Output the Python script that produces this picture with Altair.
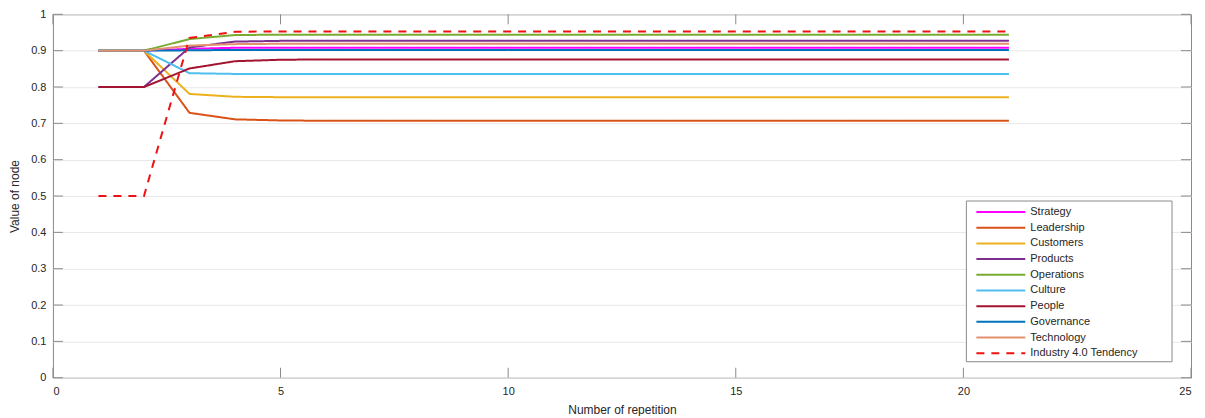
import altair as alt
import pandas as pd

repetitions = list(range(1, 22))

series_names = ["Strategy", "Leadership", "Customers", "Products", "Operations",
                "Culture", "People", "Governance", "Technology", "Industry 4.0 Tendency"]

strategy   = [0.900, 0.900, 0.905, 0.908, 0.908, 0.908, 0.908, 0.908, 0.908, 0.908, 0.908,
              0.908, 0.908, 0.908, 0.908, 0.908, 0.908, 0.908, 0.908, 0.908, 0.908]
leadership = [0.900, 0.900, 0.729, 0.711, 0.708, 0.707, 0.707, 0.707, 0.707, 0.707, 0.707,
              0.707, 0.707, 0.707, 0.707, 0.707, 0.707, 0.707, 0.707, 0.707, 0.707]
customers  = [0.900, 0.900, 0.781, 0.773, 0.772, 0.772, 0.772, 0.772, 0.772, 0.772, 0.772,
              0.772, 0.772, 0.772, 0.772, 0.772, 0.772, 0.772, 0.772, 0.772, 0.772]
products   = [0.800, 0.800, 0.909, 0.925, 0.927, 0.927, 0.927, 0.927, 0.927, 0.927, 0.927,
              0.927, 0.927, 0.927, 0.927, 0.927, 0.927, 0.927, 0.927, 0.927, 0.927]
operations = [0.900, 0.900, 0.932, 0.943, 0.944, 0.944, 0.944, 0.944, 0.944, 0.944, 0.944,
              0.944, 0.944, 0.944, 0.944, 0.944, 0.944, 0.944, 0.944, 0.944, 0.944]
culture    = [0.900, 0.900, 0.838, 0.836, 0.836, 0.836, 0.836, 0.836, 0.836, 0.836, 0.836,
              0.836, 0.836, 0.836, 0.836, 0.836, 0.836, 0.836, 0.836, 0.836, 0.836]
people     = [0.800, 0.800, 0.851, 0.871, 0.875, 0.876, 0.876, 0.876, 0.876, 0.876, 0.876,
              0.876, 0.876, 0.876, 0.876, 0.876, 0.876, 0.876, 0.876, 0.876, 0.876]
governance = [0.900, 0.900, 0.901, 0.902, 0.902, 0.902, 0.902, 0.902, 0.902, 0.902, 0.902,
              0.902, 0.902, 0.902, 0.902, 0.902, 0.902, 0.902, 0.902, 0.902, 0.902]
technology = [0.900, 0.900, 0.914, 0.918, 0.919, 0.919, 0.919, 0.919, 0.919, 0.919, 0.919,
              0.919, 0.919, 0.919, 0.919, 0.919, 0.919, 0.919, 0.919, 0.919, 0.919]
industry   = [0.500, 0.500, 0.935, 0.952, 0.953, 0.953, 0.953, 0.953, 0.953, 0.953, 0.953,
              0.953, 0.953, 0.953, 0.953, 0.953, 0.953, 0.953, 0.953, 0.953, 0.953]

series_values = [strategy, leadership, customers, products, operations,
                 culture, people, governance, technology, industry]

colors = ["#FF00FF", "#D95319", "#EDB120", "#7E2F8E", "#77AC30",
          "#4DBEEE", "#A2142F", "#0072BD", "#E3906E", "#EE1111"]
widths = [2, 2, 2, 2, 2, 2, 2, 2, 1, 2.5]
dashes = [[1, 0]] * 9 + [[8, 7]]

x_ticks = [0, 5, 10, 15, 20, 25]
y_ticks = [0, 0.1, 0.2, 0.3, 0.4, 0.5, 0.6, 0.7, 0.8, 0.9, 1.0]

rows = []
for name, vals in zip(series_names, series_values):
    for r, v in zip(repetitions, vals):
        rows.append({"rep": r, "value": v, "series": name,
                     "order": series_names.index(name)})
df = pd.DataFrame(rows)
legend_df = pd.DataFrame({"series": series_names})
xt_df = pd.DataFrame({"rep": x_ticks})
yt_df = pd.DataFrame({"value": y_ticks})

W, H = 1140, 364
FONT = "Liberation Sans"
GREY = "#8a8a8a"

color_scale = alt.Scale(domain=series_names, range=colors)
width_scale = alt.Scale(domain=series_names, range=widths)
dash_scale = alt.Scale(domain=series_names, range=dashes)

x_axis = alt.Axis(values=x_ticks, title="Number of repetition", grid=False,
                  ticks=False, tickSize=0, domain=False, labelPadding=8,
                  titlePadding=8, labelOverlap=False)
y_axis = alt.Axis(values=y_ticks, title="Value of node", grid=True, format=".1~f",
                  gridColor="#e8e8e8", ticks=False, tickSize=0, domain=False,
                  labelPadding=7, titlePadding=9, labelOverlap=False)
xenc = alt.X("rep:Q", scale=alt.Scale(domain=[0, 25]), axis=x_axis)
yenc = alt.Y("value:Q", scale=alt.Scale(domain=[0, 1]), axis=y_axis)

base_lines = alt.Chart(df[df.series != "Industry 4.0 Tendency"]).mark_line().encode(
    x=xenc, y=yenc,
    color=alt.Color("series:N", scale=color_scale, legend=None),
    strokeWidth=alt.StrokeWidth("series:N", scale=width_scale, legend=None),
    strokeDash=alt.StrokeDash("series:N", scale=dash_scale, legend=None),
    order="order:Q",
)
ind_line = alt.Chart(df[df.series == "Industry 4.0 Tendency"]).mark_line().encode(
    x=xenc, y=yenc,
    color=alt.Color("series:N", scale=color_scale, legend=None),
    strokeWidth=alt.StrokeWidth("series:N", scale=width_scale, legend=None),
    strokeDash=alt.StrokeDash("series:N", scale=dash_scale, legend=None),
)

tick_len = 10
xt_bottom = alt.Chart(xt_df).mark_rule(color=GREY).encode(
    x=xenc, y=alt.value(H - tick_len), y2=alt.value(H))
xt_top = alt.Chart(xt_df).mark_rule(color=GREY).encode(
    x=xenc, y=alt.value(0), y2=alt.value(tick_len))
yt_left = alt.Chart(yt_df).mark_rule(color=GREY).encode(
    y=yenc, x=alt.value(0), x2=alt.value(tick_len))
yt_right = alt.Chart(yt_df).mark_rule(color=GREY).encode(
    y=yenc, x=alt.value(W - tick_len), x2=alt.value(W))

# legend box
box = alt.Chart(legend_df.head(1)).mark_rect(fill="white", stroke=GREY, strokeWidth=1).encode(
    x=alt.value(915), x2=alt.value(1121), y=alt.value(187), y2=alt.value(348))

leg_y = alt.Y("series:N", scale=alt.Scale(type="point", domain=series_names,
                                           range=[198, 339.5], padding=0), axis=None)
leg_sym = alt.Chart(legend_df).mark_rule().encode(
    y=leg_y, x=alt.value(925), x2=alt.value(974),
    color=alt.Color("series:N", scale=color_scale, legend=None),
    strokeWidth=alt.StrokeWidth("series:N", scale=width_scale, legend=None),
    strokeDash=alt.StrokeDash("series:N", scale=dash_scale, legend=None),
)
leg_txt = alt.Chart(legend_df).mark_text(align="left", baseline="middle", font=FONT,
                                         fontSize=11, color="#262626").encode(
    y=leg_y, x=alt.value(979), text="series:N")

main = alt.layer(base_lines, ind_line, xt_bottom, xt_top, yt_left, yt_right)
legend = alt.layer(box, leg_sym, leg_txt)

chart = alt.layer(main, legend).resolve_scale(y="independent").properties(
    width=W, height=H,
    padding={"left": 0, "top": 0, "right": 5, "bottom": 0},
).configure_view(stroke=GREY, strokeWidth=1).configure_axis(
    labelFont=FONT, titleFont=FONT, labelFontSize=11, titleFontSize=12,
    labelColor="#262626", titleColor="#262626", titleFontWeight="normal",
)

chart.save("out.html", embed_options={"renderer": "svg", "actions": False})
